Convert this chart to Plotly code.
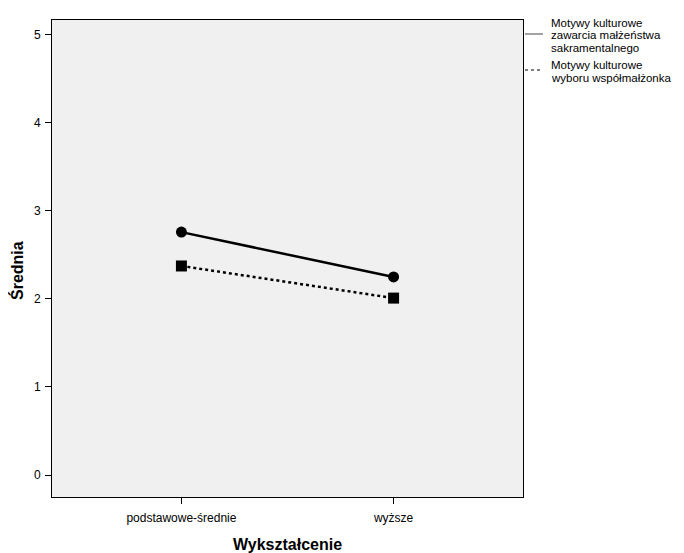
import plotly.graph_objects as go

categories = ["podstawowe-średnie", "wyższe"]
zawarcia = [2.76, 2.25]
wyboru = [2.375, 2.01]
series_names = ["Motywy kulturowe<br>zawarcia małżeństwa<br>sakramentalnego",
                "Motywy kulturowe<br>wyboru współmałżonka"]
y_ticks = [0, 1, 2, 3, 4, 5]

x_idx = list(range(len(categories)))

fig = go.Figure()
fig.add_trace(go.Scatter(x=x_idx, y=zawarcia, mode="lines+markers",
                         line=dict(color="black", width=2.5, dash="solid"),
                         marker=dict(symbol="circle", size=11, color="black"),
                         showlegend=False))
fig.add_trace(go.Scatter(x=x_idx, y=wyboru, mode="lines+markers",
                         line=dict(color="black", width=2.5, dash="dot"),
                         marker=dict(symbol="square", size=11, color="black"),
                         showlegend=False))

font = "Liberation Sans, Arial, sans-serif"
OFF = 8  # page body margin
W, H = 684 - OFF, 553 - OFF
PT, PB = 20 - OFF, 497 - OFF
PL, PR = 52 - OFF, 523 - OFF
ph = PB - PT
pw = PR - PL


def py(y):
    return (PB - (y - OFF)) / ph


def px(x):
    return ((x - OFF) - PL) / pw


fig.update_layout(
    width=W, height=H,
    margin=dict(l=PL, r=W - PR, t=PT, b=H - PB, autoexpand=False),
    paper_bgcolor="white", plot_bgcolor="#f0f0f0",
    font=dict(family=font, size=12, color="black"),
    xaxis=dict(range=[-0.61, 1.61], tickmode="array", tickvals=x_idx, ticktext=categories,
               showgrid=False, zeroline=False, showline=True, linecolor="black", linewidth=1,
               mirror=True, ticks="outside", ticklen=6, tickcolor="black", automargin=False,
               ticklabelstandoff=4),
    yaxis=dict(range=[-0.25, 5.17], tickmode="array", tickvals=y_ticks,
               showgrid=False, zeroline=False, showline=True, linecolor="black", linewidth=1,
               mirror=True, ticks="outside", ticklen=6, tickcolor="black", automargin=False,
               ticklabelstandoff=2),
)

# axis titles
fig.add_annotation(xref="paper", yref="paper", x=px(287), y=py(544), text="<b>Wykształcenie</b>",
                   showarrow=False, xanchor="center", yanchor="middle", font=dict(size=16))
fig.add_annotation(xref="paper", yref="paper", x=px(17), y=py(271), text="<b>Średnia</b>",
                   showarrow=False, xanchor="center", yanchor="middle", textangle=-90,
                   font=dict(size=16))

# legend drawn manually (lines only, no markers)
fig.add_shape(type="line", xref="paper", yref="paper", x0=px(525), x1=px(543),
              y0=py(34), y1=py(34), line=dict(color="#666666", width=1.2))
fig.add_shape(type="line", xref="paper", yref="paper", x0=px(525), x1=px(543),
              y0=py(70), y1=py(70), line=dict(color="black", width=1, dash="dot"))
line_ys = [[23, 35.5, 48], [65, 77.5]]
for name, ys in zip(series_names, line_ys):
    for part, yy in zip(name.split("<br>"), ys):
        fig.add_annotation(xref="paper", yref="paper", x=px(550), y=py(yy), xanchor="left",
                           yanchor="middle", text=part, showarrow=False, align="left",
                           borderpad=0, font=dict(size=11.5))

fig.write_html("out.html")
